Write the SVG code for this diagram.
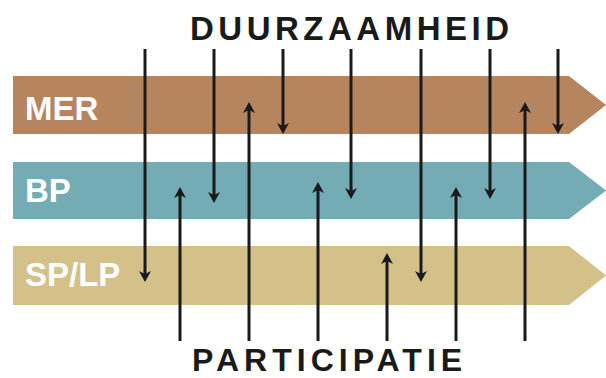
<svg xmlns="http://www.w3.org/2000/svg" width="606" height="378" viewBox="0 0 606 378">
<defs>
<style>
.band-label{font-family:"Liberation Sans",Arial,sans-serif;font-weight:bold;font-size:33px;fill:#ffffff}
.title{font-family:"Liberation Sans",Arial,sans-serif;font-weight:bold;font-size:33px;fill:#1a1a1a;letter-spacing:4.5px}
.conn line{stroke:#1a1a1a;stroke-width:3;fill:none;marker-end:url(#ah)}
</style>
<marker id="ah" markerUnits="userSpaceOnUse" orient="auto" markerWidth="20" markerHeight="20" refX="0" refY="0" viewBox="-10 -10 20 20" overflow="visible">
<path d="M6,0 L-5,-6 L-2,0 L-5,6 Z" fill="#1a1a1a"/>
</marker>
</defs>
<rect width="606" height="378" fill="#ffffff"/>
<g id="mer">
<polygon points="13,76 569,76 606,105 569,134 13,134" fill="#b5855f"/>
<text class="band-label" x="25" y="120">MER</text>
</g>
<g id="bp">
<polygon points="13,162 569,162 606,190.5 569,219 13,219" fill="#73acb4"/>
<text class="band-label" x="25" y="202">BP</text>
</g>
<g id="splp">
<polygon points="13,246 569,246 606,275.5 569,305 13,305" fill="#d4c189"/>
<text class="band-label" x="25" y="286">SP/LP</text>
</g>
<g id="duurzaamheid">
<text class="title" x="190" y="40">DUURZAAMHEID</text>
</g>
<g id="participatie">
<text class="title" x="192" y="371" style="font-size:32px;letter-spacing:5px">PARTICIPATIE</text>
</g>
<g id="connectors" class="conn">
<line x1="145" y1="49" x2="145" y2="276"/>
<line x1="214" y1="49" x2="214" y2="197"/>
<line x1="283" y1="49" x2="283" y2="128"/>
<line x1="351" y1="49" x2="351" y2="193"/>
<line x1="421" y1="49" x2="421" y2="276"/>
<line x1="490" y1="49" x2="490" y2="193"/>
<line x1="558" y1="49" x2="558" y2="128"/>
<line x1="180" y1="341" x2="180" y2="193"/>
<line x1="249" y1="341" x2="249" y2="108"/>
<line x1="318" y1="341" x2="318" y2="188"/>
<line x1="387" y1="341" x2="387" y2="259"/>
<line x1="456" y1="341" x2="456" y2="193"/>
<line x1="525" y1="341" x2="525" y2="108"/>
</g>
</svg>
